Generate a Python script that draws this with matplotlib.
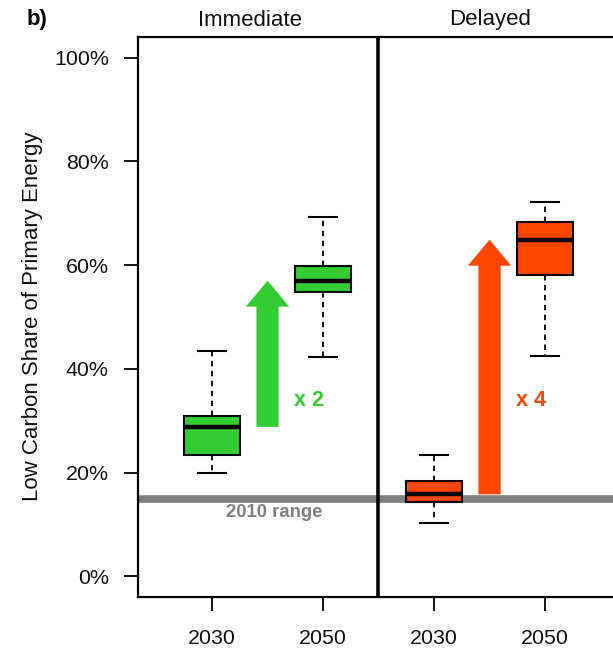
import matplotlib
matplotlib.use("Agg")
import matplotlib.pyplot as plt
from matplotlib.patches import FancyArrow

plt.rcParams['font.family'] = ['Liberation Sans', 'DejaVu Sans']

# ---- data ----
groups = ["Immediate", "Immediate", "Delayed", "Delayed"]
years = ["2030", "2050", "2030", "2050"]
whis_lo = [19.9, 42.2, 10.3, 42.4]
q1 = [23.4, 54.9, 14.3, 58.1]
median = [28.8, 57.0, 15.8, 64.9]
q3 = [30.9, 59.9, 18.4, 68.3]
whis_hi = [43.4, 69.2, 23.3, 72.1]
colors = ["#33CC33", "#33CC33", "#FF4500", "#FF4500"]
range_2010 = 14.9
multipliers = ["x 2", "x 4"]
y_ticks = [0, 20, 40, 60, 80, 100]
y_tick_labels = ["0%", "20%", "40%", "60%", "80%", "100%"]

W, H = 613, 649
fig = plt.figure(figsize=(W / 100, H / 100), dpi=100)
ax = fig.add_axes([138 / W, (H - 597) / H, (W - 138) / W, (597 - 37) / H])

positions = [1, 2, 3, 4]
stats = []
for i in range(4):
    stats.append(dict(med=median[i], q1=q1[i], q3=q3[i],
                      whislo=whis_lo[i], whishi=whis_hi[i], fliers=[]))

# 2010 range line
ax.axhline(range_2010, color="#808080", lw=5.5, zorder=1)

bp = ax.bxp(stats, positions=positions, widths=0.5, capwidths=0.25,
            patch_artist=True, showfliers=False, manage_ticks=False,
            boxprops=dict(linewidth=1.5, edgecolor="black"),
            medianprops=dict(color="black", linewidth=3.2),
            whiskerprops=dict(color="black", linewidth=1.3, linestyle=(0, (3, 2.5))),
            capprops=dict(color="black", linewidth=1.5))
for patch, c in zip(bp['boxes'], colors):
    patch.set_facecolor(c)
    patch.set_zorder(3)
for key in ['medians', 'whiskers', 'caps']:
    for l in bp[key]:
        l.set_zorder(4)

# arrows between medians
for k, (a, b) in enumerate([(0, 1), (2, 3)]):
    xm = (positions[a] + positions[b]) / 2
    arr = FancyArrow(xm, median[a], 0, median[b] - median[a], width=0.2,
                     head_width=0.39, head_length=5.0, length_includes_head=True,
                     color=colors[a], lw=0, zorder=2)
    ax.add_patch(arr)
    ax.text(xm + 0.374, 33.8, multipliers[k], color=colors[a], fontsize=15.5,
            fontweight="bold", ha="center", va="center")

ax.text(1.563, 12.35, "2010 range", color="#808080", fontsize=13.3,
        fontweight="bold", ha="center", va="center")

# divider
ax.axvline(2.5, color="black", lw=2.6, zorder=5)

ax.set_xlim(1 - 74 / 111, 1 + 401 / 111)
ax.set_ylim(-4, 104)
ax.set_xticks(positions)
ax.set_xticklabels(years)
ax.set_yticks(y_ticks)
ax.set_yticklabels(y_tick_labels)
ax.tick_params(axis='both', length=10, width=1.3, labelsize=15.4,
               color="black", labelcolor="#111111")
ax.tick_params(axis='x', pad=13)
ax.tick_params(axis='y', pad=11)
for s in ['left', 'top', 'bottom']:
    ax.spines[s].set_linewidth(1.6)
ax.spines['right'].set_visible(False)

fig.text(33 / W, 1 - 316 / H, "Low Carbon Share of Primary Energy", rotation=90,
         ha="center", va="center", fontsize=16, color="#111111")
fig.text(250 / W, 1 - 20 / H, "Immediate", ha="center", va="center", fontsize=16,
         color="#111111")
fig.text(490 / W, 1 - 20 / H, "Delayed", ha="center", va="center", fontsize=16,
         color="#111111")
fig.text(27 / W, 1 - 19 / H, "b)", ha="left", va="center", fontsize=16,
         fontweight="bold")

fig.savefig("out.png", dpi=100)
